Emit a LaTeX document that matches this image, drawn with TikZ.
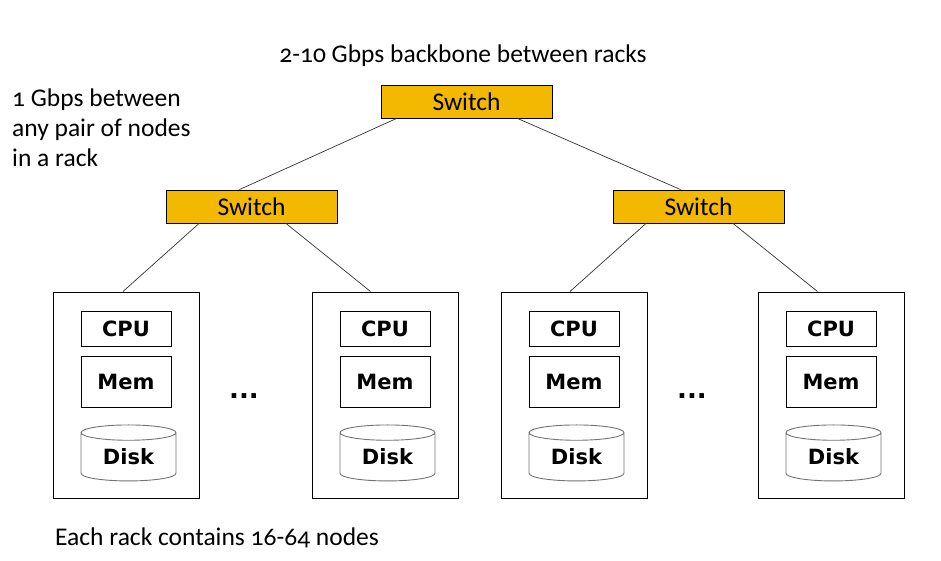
\documentclass[tikz,border=0pt]{standalone}
\usepackage{fontspec}
\setmainfont{Carlito}[Numbers=OldStyle]
\newfontfamily\boxfont{DejaVu Sans}
\usetikzlibrary{shapes.geometric}
\definecolor{switchgold}{RGB}{242,185,0}

\begin{document}
\begin{tikzpicture}[x=1pt,y=-1pt,
  switch/.style={draw=black,line width=0.9pt,fill=switchgold,minimum width=171pt,minimum height=33pt,inner sep=0pt,font=\fontsize{25.5}{30}\selectfont},
  rack/.style={draw=black,line width=1pt,minimum width=146pt,minimum height=206pt,inner sep=0pt},
  part/.style={draw=black,line width=0.9pt,minimum width=90pt,inner sep=0pt,font=\boxfont\bfseries\fontsize{21}{24}\selectfont},
  disk/.style={cylinder,shape border rotate=90,draw=black!55,line width=0.9pt,aspect=0.3,minimum width=95pt,minimum height=56pt,inner sep=0pt,font=\boxfont\bfseries\fontsize{21}{24}\selectfont},
  dots/.style={font=\boxfont\bfseries\fontsize{26}{28}\selectfont,inner sep=0pt},
  link/.style={draw=black!80,line width=0.7pt},
  note/.style={font=\fontsize{25.5}{30}\selectfont,inner sep=0pt}]
\useasboundingbox (0,0) rectangle (941,561);
\node[note,anchor=base] (backbone) at (463,63) {2-10 Gbps backbone between racks};
\node[note,anchor=north west,align=left] (inrack) at (12,89) {1 Gbps between\\any pair of nodes\\in a rack};
\node[note,anchor=base west] (count) at (55,545) {Each rack contains 16-64 nodes};
\node[switch] (core) at (466.5,101.5) {Switch};
\node[switch] (agg1) at (251.5,206.5) {Switch};
\node[switch] (agg2) at (698.5,206.5) {Switch};
\foreach \x/\n in {53/r1,312/r2,501/r3,758/r4} {
  \node[rack] (\n) at (\x+73,395) {};
  \node[part,minimum height=35pt] (\n-cpu) at (\x+73,328.5) {CPU};
  \node[part,minimum height=51pt] (\n-mem) at (\x+73,381.5) {Mem};
  \node[disk] (\n-disk) at (\x+75.5,457) {Disk};
}
\node[dots] (gap1) at (244,396) {...};
\node[dots] (gap2) at (692,396) {...};
\draw[link] ([xshift=-70pt]core.south) -- ([xshift=-12pt]agg1.north);
\draw[link] ([xshift=51pt]core.south) -- ([xshift=-18pt]agg2.north);
\draw[link] ([xshift=-52.5pt]agg1.south) -- ([xshift=-3pt]r1.north);
\draw[link] ([xshift=34.5pt]agg1.south) -- ([xshift=-14.5pt]r2.north);
\draw[link] ([xshift=-52.5pt]agg2.south) -- ([xshift=-4pt]r3.north);
\draw[link] ([xshift=34.5pt]agg2.south) -- ([xshift=-13.5pt]r4.north);
\end{tikzpicture}
\end{document}
